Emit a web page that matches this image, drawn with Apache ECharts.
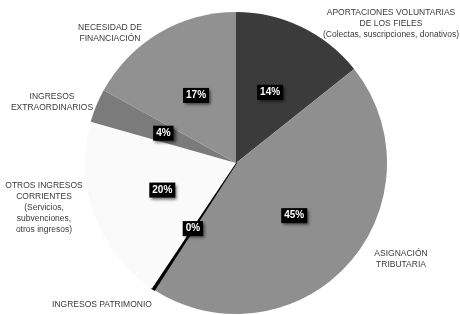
<!DOCTYPE html>
<html><head><meta charset="utf-8">
<script src="https://cdn.jsdelivr.net/npm/echarts@6/dist/echarts.min.js"></script>
<style>html,body{margin:0;padding:0;background:#fff}#c{width:460px;height:315px}</style>
</head><body><div id="c"></div>
<script>
const categories = [
  'APORTACIONES VOLUNTARIAS\nDE LOS FIELES\n(Colectas, suscripciones, donativos)',
  'ASIGNACIÓN\nTRIBUTARIA',
  'INGRESOS PATRIMONIO',
  'OTROS INGRESOS\nCORRIENTES\n(Servicios,\nsubvenciones,\notros ingresos)',
  'INGRESOS\nEXTRAORDINARIOS',
  'NECESIDAD DE\nFINANCIACIÓN'
];
const values = [14.3, 44.8, 0.3, 20.0, 3.6, 17.0];
const colors = ['#3b3b3b', '#8f8f8f', '#000000', '#fafafa', '#7b7b7b', '#919191'];
const nameLabelPos = [[391, 24], [401, 259], [102, 305], [44, 208], [52, 102], [110, 33]];

const chart = echarts.init(document.getElementById('c'), null, {renderer: 'canvas'});
const data = categories.map((n, i) => ({
  name: n, value: values[i],
  itemStyle: i === 2 ? {color: colors[i], borderColor: '#000', borderWidth: 1.5} : {color: colors[i]}
}));
chart.setOption({
  animation: false,
  series: [
    {
      type: 'pie', center: [236, 163], radius: 151, startAngle: 90, clockwise: true,
      silent: true, z: 2,
      data: data,
      label: {
        show: true, position: 'inside',
        formatter: p => Math.round(p.value) + '%',
        color: '#fff', fontWeight: 'bold', fontSize: 10, fontFamily: 'Liberation Sans',
        backgroundColor: '#000', padding: [3, 3, 2, 3],
        shadowBlur: 3, shadowColor: 'rgba(0,0,0,0.6)', shadowOffsetX: 2, shadowOffsetY: 2
      },
      labelLine: {show: false}
    },
    {
      type: 'pie', center: [236, 163], radius: 151, startAngle: 90, clockwise: true,
      silent: true, z: 1,
      data: categories.map((n, i) => ({name: n, value: values[i]})),
      itemStyle: {color: 'rgba(0,0,0,0)'},
      label: {
        show: true, position: 'outside', formatter: '{b}', overflow: 'none', width: 300,
        color: '#3a3a3a', fontSize: 8.5, lineHeight: 11, fontFamily: 'Liberation Sans',
        align: 'center'
      },
      labelLine: {show: false},
      labelLayout: p => ({x: nameLabelPos[p.dataIndex][0], y: nameLabelPos[p.dataIndex][1], align: 'center', verticalAlign: 'middle'})
    }
  ]
});
</script></body></html>
